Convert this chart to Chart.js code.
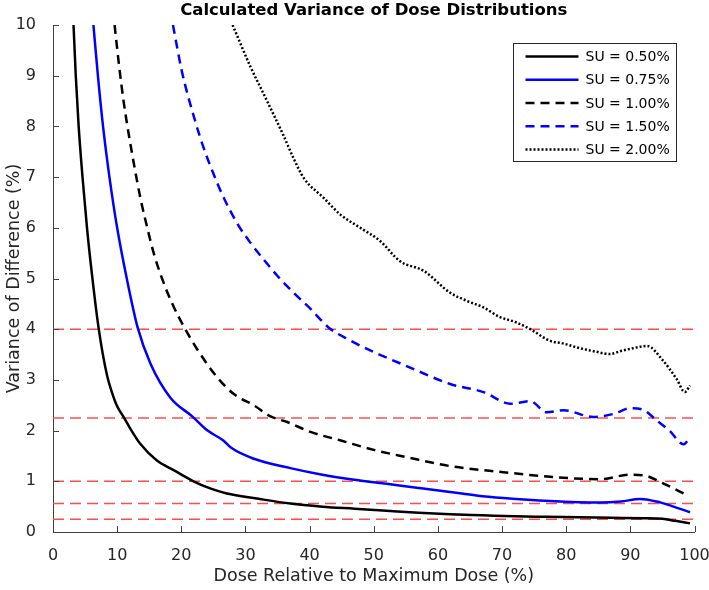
<!DOCTYPE html>
<html>
<head>
<meta charset="utf-8">
<title>Calculated Variance of Dose Distributions</title>
<script src="https://cdn.jsdelivr.net/npm/chart.js@4/dist/chart.umd.min.js"></script>
<style>
  html, body { margin: 0; padding: 0; background: #fff; }
</style>
</head>
<body>
<canvas id="doseChart" width="709" height="590"></canvas>
<script>
// values (dose in %, variance in %)
const doseSU050 = [3.2, 3.55, 4.0, 4.6, 5.3, 6.1, 7.1, 8.4, 9.2, 10.0, 11.0, 12.0, 13.6, 16.2, 18.8, 21.9, 24.5, 27.1, 31.8, 37.0, 42, 47, 52, 57, 61.9, 67, 72, 77, 82, 87, 92, 95, 97, 99.3];
const varSU050 = [10, 9.0, 8.0, 7.0, 6.0, 5.05, 4.03, 3.1, 2.75, 2.48, 2.27, 2.05, 1.74, 1.41, 1.22, 1.0, 0.86, 0.76, 0.66, 0.56, 0.5, 0.46, 0.42, 0.38, 0.35, 0.33, 0.31, 0.3, 0.29, 0.28, 0.27, 0.26, 0.22, 0.17];

const doseSU075 = [6.3, 7.0, 7.8, 8.8, 10.0, 11.5, 13.2, 15.2, 18.3, 21.7, 24.1, 26.5, 27.9, 31.2, 37, 42, 47, 52, 57, 61.9, 66, 70.2, 77.5, 85.3, 88.5, 91.5, 94.1, 96.5, 99.3];
const varSU075 = [10, 9.0, 8.0, 7.0, 6.0, 5.0, 4.03, 3.32, 2.65, 2.28, 2.0, 1.81, 1.65, 1.45, 1.26, 1.13, 1.03, 0.95, 0.87, 0.79, 0.72, 0.67, 0.61, 0.58, 0.6, 0.65, 0.6, 0.51, 0.39];

const doseSU100 = [9.6, 10.3, 11.0, 11.8, 12.7, 13.6, 14.6, 15.7, 17.0, 18.6, 20.4, 22.5, 25.6, 28.2, 31.3, 33.9, 36.5, 40, 45, 50, 55, 61.9, 70.2, 77.5, 85.3, 89.9, 92, 95.1, 98.8];
const varSU100 = [10, 9.2, 8.5, 7.85, 7.2, 6.6, 6.05, 5.5, 5.0, 4.5, 4.05, 3.6, 3.05, 2.72, 2.5, 2.28, 2.17, 1.98, 1.8, 1.62, 1.48, 1.3, 1.18, 1.09, 1.04, 1.13, 1.12, 0.96, 0.73];

const doseSU150 = [18.7, 20.1, 22.2, 23.5, 25.0, 26.4, 28.7, 30.8, 33, 35, 37.5, 40, 43, 46, 50, 55, 61.9, 67.1, 71.3, 74.4, 77, 79.6, 84.2, 87.4, 90, 92, 94.1, 96.1, 98.3, 99.3];
const varSU150 = [10, 9.08, 8.09, 7.57, 7.07, 6.65, 6.09, 5.7, 5.35, 5.05, 4.72, 4.42, 4.03, 3.8, 3.55, 3.28, 2.92, 2.76, 2.53, 2.58, 2.36, 2.4, 2.27, 2.33, 2.44, 2.41, 2.2, 2.0, 1.73, 1.87];

const doseSU200 = [28.0, 30.8, 32.3, 34.4, 35.9, 37.5, 39.1, 42.2, 44.8, 47.9, 51, 54.1, 57.8, 61.9, 64.5, 67.1, 69.5, 72.3, 74.4, 77.5, 79.5, 81.7, 84.5, 86.8, 88.5, 89.9, 92.6, 95.1, 97.2, 98.5, 99.3];
const varSU200 = [10, 9.17, 8.78, 8.23, 7.83, 7.37, 6.98, 6.59, 6.26, 6.0, 5.74, 5.34, 5.15, 4.72, 4.56, 4.43, 4.25, 4.13, 4.0, 3.77, 3.72, 3.64, 3.56, 3.51, 3.57, 3.61, 3.67, 3.38, 3.02, 2.76, 2.89];

const seriesLabels = ['SU = 0.50%', 'SU = 0.75%', 'SU = 1.00%', 'SU = 1.50%', 'SU = 2.00%'];
// squared SU values drawn as red reference lines
const referenceLevels = [0.25, 0.5625, 1, 2.25, 4];

const toPoints = (xs, ys) => xs.map((x, i) => ({ x: x, y: ys[i] }));

const FONT = '"DejaVu Sans", "Liberation Sans", Arial, sans-serif';
const TEXT_COLOR = '#262626';

const curve = (label, xs, ys, color, dash) => ({
  label: label,
  data: toPoints(xs, ys),
  borderColor: color,
  backgroundColor: color,
  borderWidth: 2.5,
  borderDash: dash,
  pointRadius: 0,
  cubicInterpolationMode: 'monotone',
  fill: false
});

const datasets = [
  curve(seriesLabels[0], doseSU050, varSU050, '#000000', []),
  curve(seriesLabels[1], doseSU075, varSU075, '#0000ff', []),
  curve(seriesLabels[2], doseSU100, varSU100, '#000000', [9, 6]),
  curve(seriesLabels[3], doseSU150, varSU150, '#0000ff', [9, 6]),
  curve(seriesLabels[4], doseSU200, varSU200, '#000000', [2, 2])
];

referenceLevels.forEach(level => {
  datasets.push({
    label: '',
    isReference: true,
    data: [{ x: 0, y: level }, { x: 100, y: level }],
    borderColor: '#ff4d4d',
    borderWidth: 1.5,
    borderDash: [11, 6],
    pointRadius: 0,
    fill: false
  });
});

// MATLAB style: title centred over the axes, inward ticks, boxed legend
const matlabLook = {
  id: 'matlabLook',
  afterDraw(chart) {
    const ctx = chart.ctx;
    const area = chart.chartArea;

    ctx.save();
    // inward tick marks
    ctx.strokeStyle = '#404040';
    ctx.lineWidth = 1;
    ctx.setLineDash([]);
    const xs = chart.scales.x;
    xs.ticks.forEach(t => {
      const px = Math.round(xs.getPixelForValue(t.value)) + 0.5;
      ctx.beginPath();
      ctx.moveTo(px, area.bottom);
      ctx.lineTo(px, area.bottom - 6);
      ctx.stroke();
    });
    const ys = chart.scales.y;
    ys.ticks.forEach(t => {
      const py = Math.round(ys.getPixelForValue(t.value)) + 0.5;
      ctx.beginPath();
      ctx.moveTo(area.left, py);
      ctx.lineTo(area.left + 6, py);
      ctx.stroke();
    });

    // title
    ctx.fillStyle = '#000';
    ctx.font = 'bold 16.5px ' + FONT;
    ctx.textAlign = 'center';
    ctx.textBaseline = 'alphabetic';
    ctx.fillText('Calculated Variance of Dose Distributions', (area.left + area.right) / 2, 15);

    // legend
    const boxW = 163, boxH = 118;
    const bx = Math.round(area.right - 18.5 - boxW) + 0.5;
    const by = Math.round(area.top + 18) + 0.5;
    ctx.fillStyle = '#fff';
    ctx.fillRect(bx, by, boxW, boxH);
    ctx.strokeStyle = '#262626';
    ctx.lineWidth = 1;
    ctx.strokeRect(bx, by, boxW, boxH);

    ctx.font = '14px ' + FONT;
    ctx.textAlign = 'left';
    ctx.textBaseline = 'middle';
    chart.data.datasets.filter(d => !d.isReference).forEach((d, i) => {
      const ry = by + 13 + i * 23.25;
      ctx.strokeStyle = d.borderColor;
      ctx.lineWidth = d.borderWidth;
      ctx.setLineDash(d.borderDash);
      ctx.beginPath();
      ctx.moveTo(bx + 12, ry);
      ctx.lineTo(bx + 65, ry);
      ctx.stroke();
      ctx.setLineDash([]);
      ctx.fillStyle = '#000';
      ctx.fillText(d.label, bx + 72, ry + 1);
    });
    ctx.restore();
  }
};

const ctx = document.getElementById('doseChart').getContext('2d');
const chart = new Chart(ctx, {
  type: 'line',
  data: { datasets: datasets },
  options: {
    responsive: false,
    animation: false,
    devicePixelRatio: 1,
    layout: { padding: { top: 25, right: 14.5, bottom: 0, left: 0 } },
    plugins: {
      legend: { display: false },
      title: { display: false },
      tooltip: { enabled: false }
    },
    scales: {
      x: {
        type: 'linear',
        min: 0,
        max: 100,
        grid: { display: false },
        border: { display: true, color: '#404040', width: 1 },
        ticks: { stepSize: 10, color: TEXT_COLOR, padding: 6, font: { family: FONT, size: 16 } },
        title: {
          display: true,
          text: 'Dose Relative to Maximum Dose (%)',
          color: TEXT_COLOR,
          font: { family: FONT, size: 17.5 },
          padding: { top: 0, bottom: 3 }
        },
        afterFit: s => { s.height = 58; s.paddingLeft = 0; s.paddingRight = 0; }
      },
      y: {
        type: 'linear',
        min: 0,
        max: 10,
        grid: { display: false },
        border: { display: true, color: '#404040', width: 1 },
        ticks: { stepSize: 1, color: TEXT_COLOR, padding: 9, font: { family: FONT, size: 16 } },
        title: {
          display: true,
          text: 'Variance of Difference (%)',
          color: TEXT_COLOR,
          font: { family: FONT, size: 17.5 },
          padding: { top: 4, bottom: 0 }
        },
        afterFit: s => { s.width = 53; }
      }
    }
  },
  plugins: [matlabLook]
});
</script>
</body>
</html>
